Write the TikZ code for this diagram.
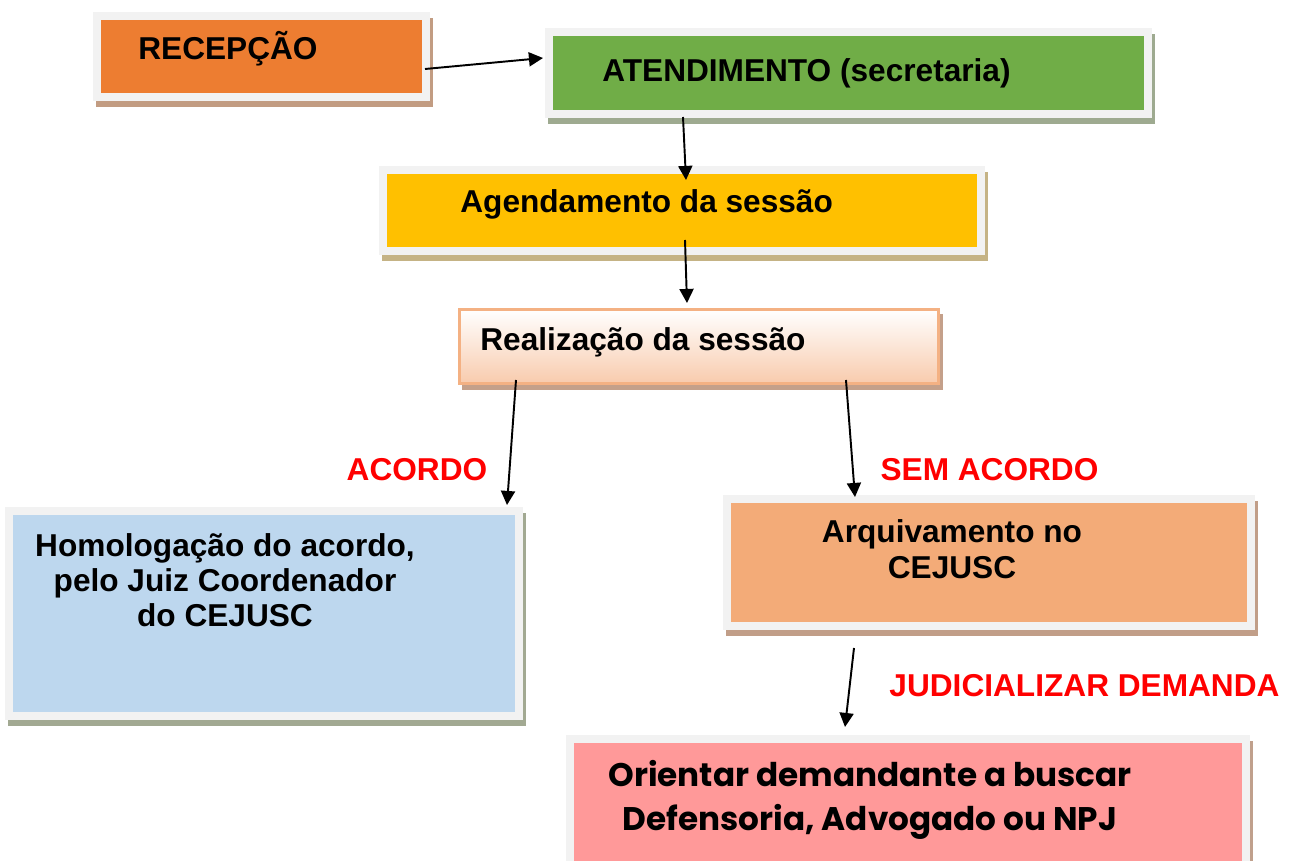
\documentclass[tikz,border=0pt]{standalone}
\usepackage{fontspec}
\setmainfont{Liberation Sans}
\newfontfamily\gothicfont{Poppins}
\usepackage{tikz}
\usetikzlibrary{arrows.meta}
\usetikzlibrary{shadows}
\definecolor{framegray}{HTML}{F2F2F2}
\definecolor{recfill}{HTML}{ED7D31}
\definecolor{recshade}{HTML}{C29C82}
\definecolor{atefill}{HTML}{70AD47}
\definecolor{ateshade}{HTML}{9EAA90}
\definecolor{agefill}{HTML}{FFC000}
\definecolor{ageshade}{HTML}{C5B385}
\definecolor{reaborder}{HTML}{F4B183}
\definecolor{reafill}{HTML}{F8CBAD}
\definecolor{reashade}{HTML}{C4A08A}
\definecolor{homfill}{HTML}{BDD7EE}
\definecolor{homshade}{HTML}{A2A992}
\definecolor{arqfill}{HTML}{F3AB78}
\definecolor{arqshade}{HTML}{C19E88}
\definecolor{orifill}{HTML}{FF9999}
\definecolor{orishade}{HTML}{C0A08C}
\tikzset{
  stepbox/.style 2 args={rectangle, draw=framegray, line width=0.16cm, inner sep=0pt, fill=#1,
    drop shadow={shadow xshift=0.06cm, shadow yshift=-0.12cm, fill=#2, draw=#2, line width=0.16cm, opacity=1}},
  boxtext/.style={inner sep=0pt, font=\fontsize{18}{20}\selectfont\bfseries},
  redtext/.style={boxtext, text=red},
  flow/.style={line width=1.1pt, -{Triangle[length=8pt,width=8pt]}}
}

\begin{document}
\begin{tikzpicture}[x=0.02cm, y=-0.02cm]
\useasboundingbox (0,0) rectangle (1289,861);

\node[stepbox={recfill}{recshade}, minimum width=6.58cm, minimum height=1.62cm] (rec) at (261.5,56.5) {};
\node[stepbox={atefill}{ateshade}, minimum width=11.98cm, minimum height=1.64cm] (ate) at (848.5,73) {};
\node[stepbox={agefill}{ageshade}, minimum width=11.96cm, minimum height=1.62cm] (age) at (682,210.5) {};
\node[rectangle, draw=reaborder, line width=0.06cm, inner sep=0pt, top color=white, bottom color=reafill,
  drop shadow={shadow xshift=0.07cm, shadow yshift=-0.11cm, fill=reashade, draw=reashade, line width=0.06cm, opacity=1},
  minimum width=9.58cm, minimum height=1.48cm] (rea) at (699,346.5) {};
\node[stepbox={homfill}{homshade}, minimum width=10.2cm, minimum height=4.1cm] (hom) at (264,613.5) {};
\node[stepbox={arqfill}{arqshade}, minimum width=10.48cm, minimum height=2.54cm] (arq) at (989,562.5) {};
\node[stepbox={orifill}{orishade}, minimum width=13.52cm, minimum height=2.74cm] (ori) at (908,807.5) {};

\node[boxtext, anchor=base west] (rectxt) at (138,60) {RECEPÇÃO};
\node[boxtext, anchor=base west] (atetxt) at (602,82) {ATENDIMENTO (secretaria)};
\node[boxtext, anchor=base west] (agetxt) at (460,213) {Agendamento da sessão};
\node[boxtext, anchor=base west] (reatxt) at (480,351) {Realização da sessão};
\node[boxtext, align=center, anchor=north] (homtxt) at (225,533) {Homologação do acordo,\\pelo Juiz Coordenador\\do CEJUSC};
\node[boxtext, align=center, anchor=north, font=\fontsize{18}{20.5}\selectfont\bfseries] (arqtxt) at (952,519) {Arquivamento no\\CEJUSC};
\node[inner sep=0pt, align=center, anchor=north, font=\gothicfont\fontsize{18.6}{25}\selectfont\bfseries] (oritxt) at (870,760) {Orientar demandante a buscar\\Defensoria, Advogado ou NPJ};

\node[redtext] (acordo) at (417,470) {ACORDO};
\node[redtext] (semacordo) at (989.5,470) {SEM ACORDO};
\node[redtext] (judicial) at (1084.5,686) {JUDICIALIZAR DEMANDA};

\coordinate (rec-out) at (425,69);
\coordinate (ate-in) at (543,58);
\coordinate (ate-out) at (683,117);
\coordinate (age-in) at (686,180);
\coordinate (age-out) at (685,240);
\coordinate (rea-in) at (687,303);
\coordinate (rea-left) at (516,380);
\coordinate (hom-in) at (507,505);
\coordinate (rea-right) at (846,380);
\coordinate (arq-in) at (855,497);
\coordinate (arq-out) at (854,648);
\coordinate (ori-in) at (845,727);

\draw[flow] (rec-out) -- (ate-in);
\draw[flow] (ate-out) -- (age-in);
\draw[flow] (age-out) -- (rea-in);
\draw[flow] (rea-left) -- (hom-in);
\draw[flow] (rea-right) -- (arq-in);
\draw[flow] (arq-out) -- (ori-in);
\end{tikzpicture}
\end{document}
